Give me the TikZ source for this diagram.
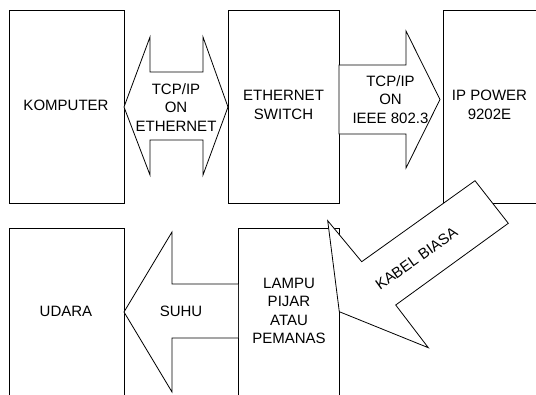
\documentclass[tikz,border=0pt]{standalone}
\usepackage{fontspec}
\setmainfont{Liberation Sans}
\begin{document}
\begin{tikzpicture}[x=1pt,y=-1pt,
  every node/.style={font=\fontsize{15}{18.5}\selectfont, text=black, align=center, inner sep=0pt},
  blockbox/.style={draw=black, line width=0.8pt, fill=white, rectangle, anchor=north west},
  blockarrow/.style={draw=black, line width=0.8pt, fill=white, line join=miter}]
\useasboundingbox (0,0) rectangle (536,394);
\clip (0,0) rectangle (536,394);

% top row of units
\node[blockbox, minimum width=115pt, minimum height=193pt] (komp) at (9,10) {};
\node[blockbox, minimum width=111pt, minimum height=193pt] (switch) at (228,10) {};
\node[blockbox, minimum width=110pt, minimum height=193pt] (ippower) at (443,10) {};
\node (kompt) at (66,105) {KOMPUTER};
\node (switcht) at (283.5,105) {ETHERNET\\SWITCH};
\node (ippowert) at (489.5,105) {IP POWER\\9202E};

% bottom row of units
\node[blockbox, minimum width=115pt, minimum height=180pt] (udara) at (9,228) {};
\node[blockbox, minimum width=101pt, minimum height=180pt] (lampu) at (238,228) {};
\node (udarat) at (66,311) {UDARA};
\node (lamput) at (289,311) {LAMPU\\PIJAR\\ATAU\\PEMANAS};

% two-way link between computer and switch
\draw[blockarrow] (124,107) -- (150,37) -- (150,72) -- (203,72) -- (203,37)
  -- (228,107) -- (203,175) -- (203,140) -- (150,140) -- (150,175) -- cycle;
\node (tcpeth) at (176,107.5) {TCP/IP\\ON\\ETHERNET};

% switch to IP power unit
\draw[blockarrow] (339,65) -- (406,65) -- (406,31) -- (440,99.5)
  -- (406,168) -- (406,134) -- (339,134) -- cycle;
\node (tcpieee) at (390.5,99.5) {TCP/IP\\ON\\IEEE 802.3};

% cable from IP power unit to the lamp
\draw[blockarrow] (327.7,220.7) -- (361.7,261.7) -- (475,180.7) -- (508.3,223.3)
  -- (395.7,305) -- (428.3,347.7) -- (339.3,311.7) -- cycle;
\node[rotate=35.5] (kabel) at (416.5,258.5) {KABEL BIASA};

% heat from the lamp to the air
\draw[blockarrow] (238,284) -- (172,284) -- (172,232) -- (124,312)
  -- (172,392) -- (172,338) -- (238,338);
\node (suhu) at (181,311) {SUHU};
\end{tikzpicture}
\end{document}
